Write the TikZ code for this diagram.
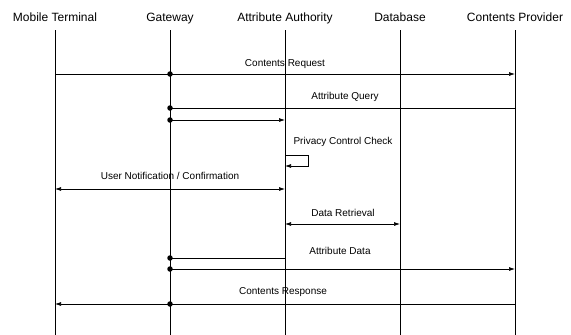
\documentclass[tikz,border=0pt]{standalone}
\usepackage{fontspec}
\setmainfont{Liberation Sans}
\usetikzlibrary{arrows.meta}

\begin{document}
\begin{tikzpicture}[x=1pt,y=-1pt,line width=0.7pt,
    actor/.style={font=\fontsize{12}{14}\selectfont,inner sep=1pt},
    msglabel/.style={font=\fontsize{10}{12}\selectfont,inner sep=1pt},
    msg/.style={-{Latex[length=6pt,width=4pt]}},
    twoway/.style={{Latex[length=6pt,width=4pt]}-{Latex[length=6pt,width=4pt]}},
    dot/.style={circle,fill,inner sep=0pt,minimum size=5.5pt}]
\useasboundingbox (0,0) rectangle (571,335);
% actors and lifelines
\foreach \name/\x/\txt in {mt/55/Mobile Terminal,gw/170/Gateway,aa/285/Attribute Authority,db/400/Database,cp/515/Contents Provider}{
  \node[actor,anchor=base] (\name) at (\x,21.7) {\txt};
  \coordinate (\name top) at (\x,30);
  \coordinate (\name bot) at (\x,335);
  \draw (\name top) -- (\name bot);
}
% message rows
\coordinate (r1) at (0,74);
\coordinate (r2) at (0,108);
\coordinate (r3) at (0,120);
\coordinate (r4) at (0,155);
\coordinate (r5) at (0,166);
\coordinate (r6) at (0,189);
\coordinate (r7) at (0,224);
\coordinate (r8) at (0,258);
\coordinate (r9) at (0,269);
\coordinate (r10) at (0,304);

\draw[msg] (mt |- r1) -- (cp |- r1);
\node[dot] (d1) at (gw |- r1) {};
\node[msglabel] (l1) at (285,64) {Contents Request};

\draw (cp |- r2) -- (gw |- r2);
\node[dot] (d2) at (gw |- r2) {};
\node[msglabel] (l2) at (345,97) {Attribute Query};

\node[dot] (d3) at (gw |- r3) {};
\draw[msg] (d3.center) -- (aa |- r3);

\node[msglabel] (l3) at (343,142) {Privacy Control Check};
\coordinate (loopa) at (308,155);
\coordinate (loopb) at (308,166);
\draw[msg] (aa |- r4) -- (loopa) -- (loopb) -- (aa |- r5);

\draw[twoway] (mt |- r6) -- (aa |- r6);
\node[msglabel] (l4) at (170,176) {User Notification / Confirmation};

\draw[twoway] (aa |- r7) -- (db |- r7);
\node[msglabel] (l5) at (343,213) {Data Retrieval};

\draw (aa |- r8) -- (gw |- r8);
\node[dot] (d4) at (gw |- r8) {};
\node[msglabel] (l6) at (340,251) {Attribute Data};

\node[dot] (d5) at (gw |- r9) {};
\draw[msg] (d5.center) -- (cp |- r9);

\draw[msg] (cp |- r10) -- (mt |- r10);
\node[dot] (d6) at (gw |- r10) {};
\node[msglabel] (l7) at (283,292) {Contents Response};
\end{tikzpicture}
\end{document}
